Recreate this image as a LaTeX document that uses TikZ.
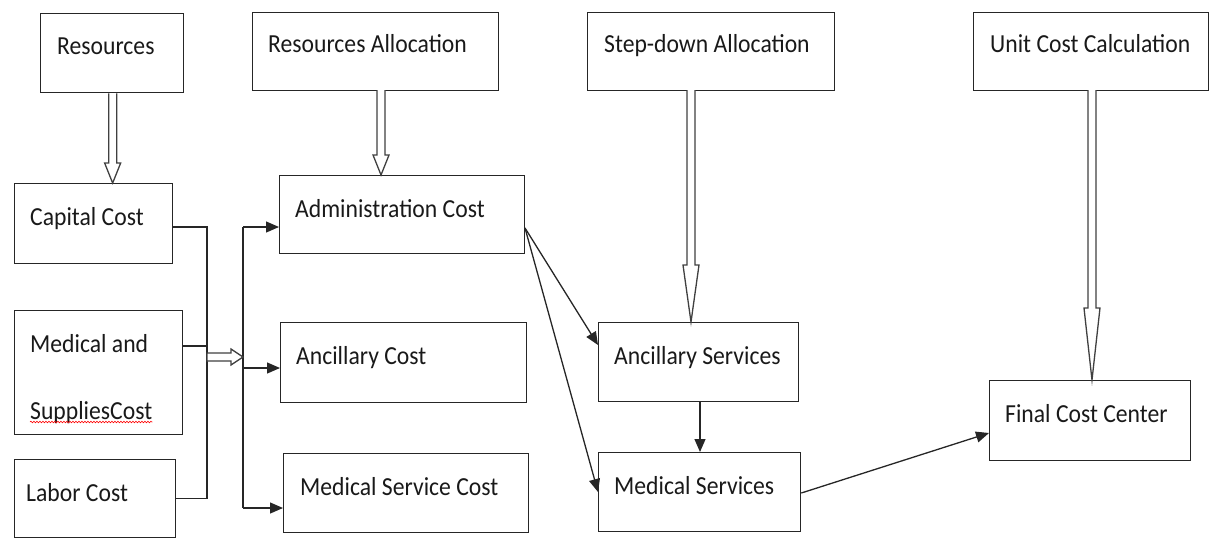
\documentclass[tikz,border=0pt]{standalone}
\usepackage{fontspec}
\setmainfont[FakeStretch=0.91]{Carlito}
\usetikzlibrary{arrows.meta,calc,decorations.pathmorphing}
\begin{document}
\begin{tikzpicture}[x=1pt,y=-1pt,
  box/.style={draw=black!85,line width=1.3pt,anchor=north west,inner sep=0pt},
  lbl/.style={anchor=base west,inner sep=0pt,text=black!90,font=\fontsize{26}{30}\selectfont},
  conn/.style={draw=black!85,line width=1.3pt},
  arr/.style={conn,-{Triangle[length=13pt,width=11pt]}},
  hollow/.style={draw=black!75,line width=1.3pt,fill=white,line join=miter}]
\useasboundingbox (0,0) rectangle (1227,539);
% boxes
\node[box,minimum width=143pt,minimum height=79pt] (res) at (40,13) {};
\node[box,minimum width=246pt,minimum height=78pt] (ralloc) at (252,12) {};
\node[box,minimum width=247pt,minimum height=78pt] (step) at (587,12) {};
\node[box,minimum width=235pt,minimum height=78pt] (unit) at (973,12) {};
\node[box,minimum width=158pt,minimum height=80pt] (cap) at (14,183) {};
\node[box,minimum width=168pt,minimum height=124pt] (med) at (14,310) {};
\node[box,minimum width=161pt,minimum height=78pt] (lab) at (14,459) {};
\node[box,minimum width=245pt,minimum height=78pt] (adm) at (279,175) {};
\node[box,minimum width=246pt,minimum height=80pt] (anc) at (280,322) {};
\node[box,minimum width=245pt,minimum height=79pt] (msc) at (283,453) {};
\node[box,minimum width=200pt,minimum height=79pt] (ancs) at (598,322) {};
\node[box,minimum width=202pt,minimum height=79pt] (meds) at (598,452) {};
\node[box,minimum width=201pt,minimum height=80pt] (fcc) at (989,380) {};
% labels
\node[lbl] (tres) at (57,54) {Resources};
\node[lbl] (tralloc) at (268,52) {Resources Allocation};
\node[lbl] (tstep) at (604,52) {Step-down Allocation};
\node[lbl] (tunit) at (990,52) {Unit Cost Calculation};
\node[lbl] (tcap) at (30,225) {Capital Cost};
\node[lbl] (tmed1) at (30,352) {Medical and};
\node[lbl] (tmed2) at (30,419) {SuppliesCost};
\node[lbl] (tlab) at (26,501) {Labor Cost};
\node[lbl] (tadm) at (295,217) {Administration Cost};
\node[lbl] (tanc) at (296,364) {Ancillary Cost};
\node[lbl] (tmsc) at (300,495) {Medical Service Cost};
\node[lbl] (tancs) at (614,364) {Ancillary Services};
\node[lbl] (tmeds) at (614,494) {Medical Services};
\node[lbl] (tfcc) at (1005,422) {Final Cost Center};
% spell-check underline
\draw[red,line width=0.6pt,decorate,decoration={snake,amplitude=0.8pt,segment length=3pt}]
  ($(tmed2.base west)+(0,3)$) -- ($(tmed2.base east)+(0,3)$);
% hollow arrows
\newcommand\hollowdown[3]{% top point, bottom point, head length
  \path let \p1=(#1), \p2=(#2) in
   [hollow] (\x1-4pt,\y1) -- (\x1-4pt,\y2+#3) -- (\x1-8pt,\y2+#3) -- (\x1,\y2)
   -- (\x1+8pt,\y2+#3) -- (\x1+4pt,\y2+#3) -- (\x1+4pt,\y1);}
\coordinate (h1a) at ($(res.south)+(0.5,0)$);
\hollowdown{h1a}{h1a |- cap.north}{20pt}
\coordinate (h2a) at (381,90);
\hollowdown{h2a}{h2a |- adm.north}{20pt}
\coordinate (h3a) at (691,90);
\hollowdown{h3a}{h3a |- ancs.north}{57pt}
\coordinate (h4a) at (1092,90);
\hollowdown{h4a}{h4a |- fcc.north}{72pt}
% left bus
\coordinate (busL) at (207,227);
\coordinate (busR) at (243,227);
\draw[conn] (cap.east |- busL) -| (busL |- lab.east) -- (lab.east);
\draw[conn] (med.east |- 0,346) -- (busL |- 0,346);
\draw[conn] (busR) -- (busR |- 0,508);
\draw[arr] (busR) -- (adm.west |- busR);
\draw[arr] (busR |- 0,368) -- (anc.west |- 0,368);
\draw[arr] (busR |- 0,508) -- (msc.west |- 0,508);
% horizontal hollow arrow
\path[hollow] (207,353) -- (231,353) -- (231,349) -- (243,357) -- (231,365) -- (231,361) -- (207,361) -- cycle;
% right side arrows
\coordinate (admout) at (525,228);
\draw[arr] (admout) -- (ancs.west |- 0,345);
\draw[arr] (admout) -- (meds.west |- 0,492);
\draw[arr] (ancs.south -| 700,0) -- (meds.north -| 700,0);
\draw[arr] (meds.east |- 0,493) -- (fcc.west |- 0,433);
\end{tikzpicture}
\end{document}
